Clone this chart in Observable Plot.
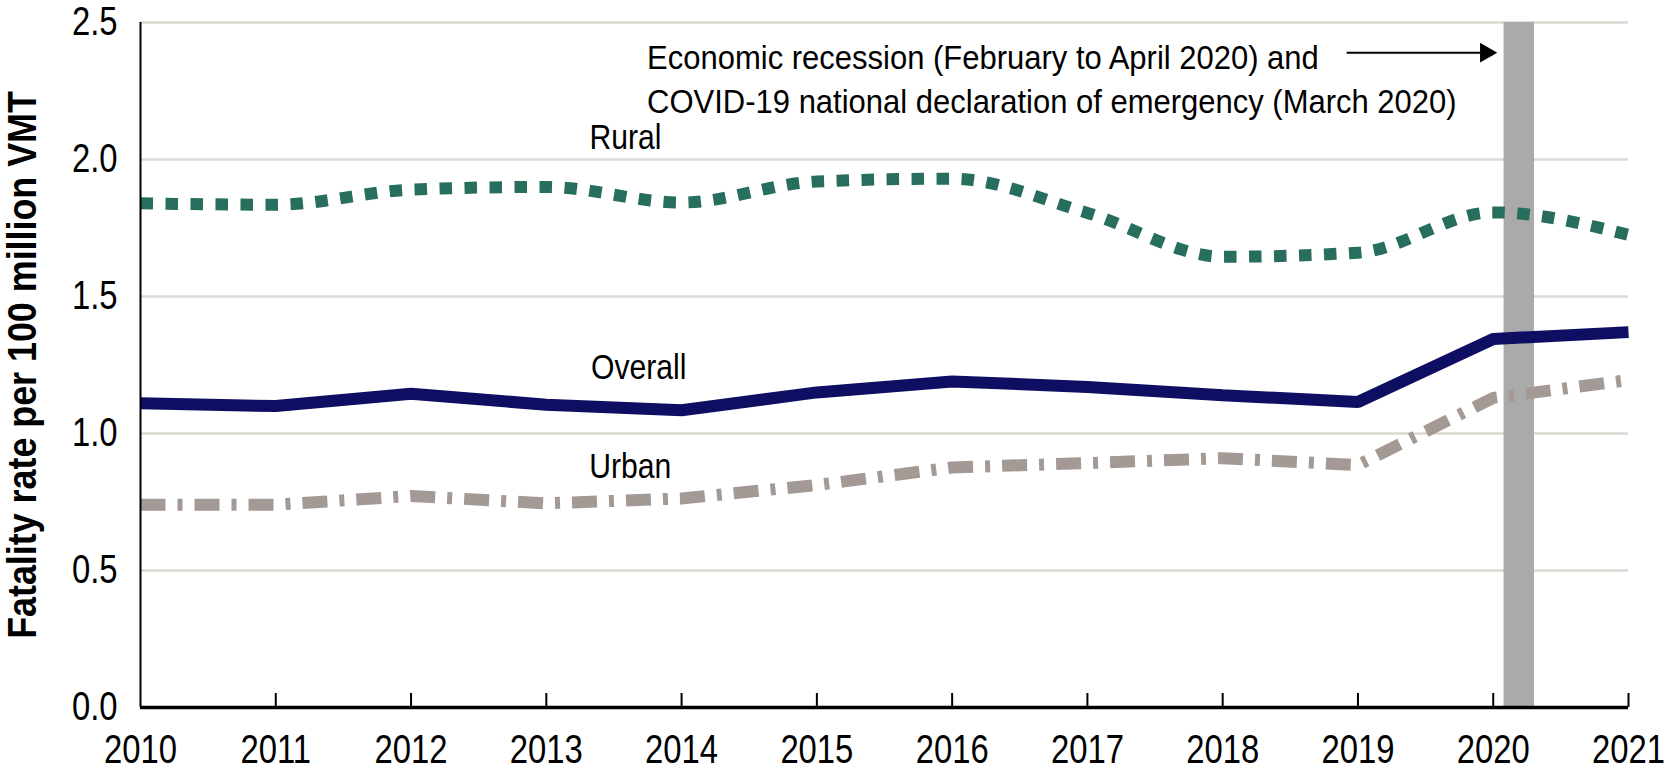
<!DOCTYPE html>
<html><head><meta charset="utf-8">
<script src="https://cdn.jsdelivr.net/npm/d3@7"></script>
<script src="https://cdn.jsdelivr.net/npm/@observablehq/plot@0.6"></script>
<style>body{margin:0;background:#fff} svg{display:block}</style>
</head><body><div id="chart"></div>
<script>
// ---- data ----
const years = [2010, 2011, 2012, 2013, 2014, 2015, 2016, 2017, 2018, 2019, 2020, 2021];
const overall = [1.11, 1.10, 1.145, 1.105, 1.085, 1.15, 1.19, 1.17, 1.14, 1.115, 1.345, 1.37];
const rural   = [1.84, 1.835, 1.89, 1.90, 1.843, 1.92, 1.93, 1.805, 1.645, 1.66, 1.807, 1.725];
const urban   = [0.74, 0.74, 0.772, 0.745, 0.763, 0.812, 0.876, 0.892, 0.91, 0.885, 1.13, 1.195];
const yTicks = [0, 0.5, 1.0, 1.5, 2.0, 2.5];
const gridValues = [0.5, 1.0, 1.5, 2.0, 2.5];
const innerTickYears = [2011, 2012, 2013, 2014, 2015, 2016, 2017, 2018, 2019, 2020, 2021];
const recession = [{start: 2020.08, end: 2020.305}];
const annotationText = ["Economic recession (February to April 2020) and\nCOVID-19 national declaration of emergency (March 2020)"];
const annotationPos = [{x: 2013.745, y: 2.445}];
const arrowPos = [{x1: 2018.92, x2: 2020.03, y: 2.39}];
const seriesLabels = [
  {name: "Rural", x: 2013.32, y: 2.130},
  {name: "Overall", x: 2013.331, y: 1.290},
  {name: "Urban", x: 2013.318, y: 0.9265}
];
const yTitle = "Fatality rate per 100 million VMT";

const rows = (vals) => years.map((yr, i) => ({year: yr, value: vals[i]}));

const FONT = '"Liberation Sans", Arial, sans-serif';
const W = 1666, H = 775, mL = 140, mR = 38, mT = 22, mB = 68;

const chart = Plot.plot({
  width: W, height: H,
  marginLeft: mL, marginRight: mR, marginTop: mT, marginBottom: mB,
  style: {fontFamily: FONT, background: "#fff", color: "#000", overflow: "visible"},
  x: {domain: [2010, 2021]},
  y: {domain: [0, 2.5]},
  marks: [
    Plot.ruleY(gridValues, {stroke: "#dcd9d2", strokeWidth: 2.5}),
    Plot.rect(recession, {x1: "start", x2: "end", fill: "#aaaaaa"}),
    Plot.line(rows(rural), {x: "year", y: "value", stroke: "#276e5e", strokeWidth: 12,
      strokeDasharray: "12.5,12.5", curve: "monotone-x", strokeLinecap: "butt"}),
    Plot.line(rows(urban), {x: "year", y: "value", stroke: "#a49a95", strokeWidth: 12,
      strokeDasharray: "25,12,5,12", strokeLinecap: "butt", strokeLinejoin: "miter"}),
    Plot.line(rows(overall), {x: "year", y: "value", stroke: "#0e0e62", strokeWidth: 12,
      strokeLinejoin: "miter", strokeLinecap: "butt"}),
    Plot.tickX(innerTickYears, {x: d => d, stroke: "#000", strokeWidth: 2, insetTop: (H - mT - mB) - 14}),
    Plot.ruleX([2010], {stroke: "#000", strokeWidth: 2}),
    Plot.ruleY([0], {stroke: "#000", strokeWidth: 3.5}),
    Plot.axisY(yTicks, {tickSize: 0, tickPadding: 23, fontSize: 40, tickFormat: d3.format(".1f"), label: null}),
    Plot.axisX(years, {tickSize: 0, tickPadding: 27, fontSize: 40, tickFormat: d => String(d), label: null}),
    Plot.text(annotationText, {x: () => annotationPos[0].x, y: () => annotationPos[0].y, text: d => d,
      textAnchor: "start", lineAnchor: "top", fontSize: 33.5, lineHeight: 1.31, fill: "#000", ariaLabel: () => "annotation"}),
    Plot.ruleY(arrowPos, {y: "y", x1: "x1", x2: "x2", stroke: "#000", strokeWidth: 2, insetRight: 10}),
    Plot.dot(arrowPos, {x: "x2", y: "y", symbol: "triangle", rotate: 90, r: 7.4, fill: "#000", stroke: null, dx: -11.5}),
    Plot.text(seriesLabels, {x: "x", y: "y", text: "name", textAnchor: "start", lineAnchor: "top", fontSize: 35, fill: "#000", ariaLabel: () => "series-label"}),
    Plot.text([yTitle], {frameAnchor: "left", rotate: -90, dx: -117, dy: 0, fontSize: 40, fontWeight: "bold",
      textAnchor: "middle", lineAnchor: "middle", fill: "#000", ariaLabel: () => "y-title"})
  ]
});
document.getElementById("chart").appendChild(chart);

// Narrow the glyphs (the reference uses a condensed face, not installed here)
const narrowFactors = {
  "x-axis tick label": 0.82,
  "y-axis tick label": 0.82,
  "annotation": 0.925,
  "series-label": 0.86,
  "y-title": 0.896
};
function narrow(el, f) {
  const w = el.getComputedTextLength();
  el.setAttribute("textLength", (w * f).toFixed(2));
  el.setAttribute("lengthAdjust", "spacingAndGlyphs");
}
for (const [label, f] of Object.entries(narrowFactors)) {
  chart.querySelectorAll(`[aria-label="${label}"]`).forEach(node => {
    const texts = node.tagName.toLowerCase() === "text" ? [node] : Array.from(node.querySelectorAll("text"));
    texts.forEach(t => {
      const spans = t.querySelectorAll("tspan");
      (spans.length ? Array.from(spans) : [t]).forEach(el => narrow(el, f));
    });
  });
}
</script>
</body></html>
